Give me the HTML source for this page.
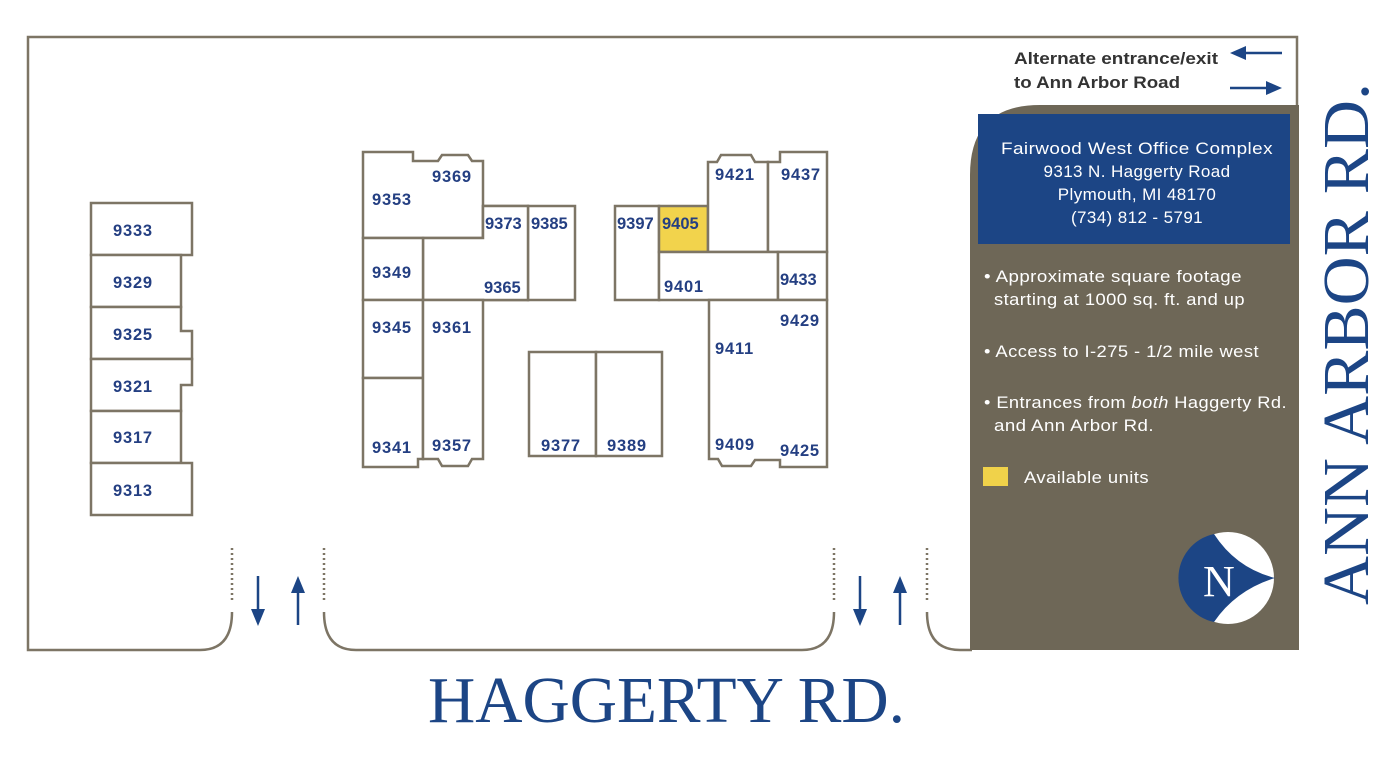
<!DOCTYPE html>
<html><head><meta charset="utf-8"><style>
html,body{margin:0;padding:0;background:#fff;}
svg{display:block;}
.n{font-family:"Liberation Sans",sans-serif;font-weight:bold;font-size:16.5px;letter-spacing:0.8px;fill:#243f82;}
.w{font-family:"Liberation Sans",sans-serif;font-size:17px;letter-spacing:0.4px;fill:#fff;}
.b{fill:#fff;stroke:#7d7565;stroke-width:2.5;}
</style></head><body>
<svg width="1400" height="758" viewBox="0 0 1400 758" xmlns="http://www.w3.org/2000/svg">
<g fill="none" stroke="#7d7565" stroke-width="2.5">
<path d="M200 650 L28 650 L28 37 L1297 37 L1297 110"/>
<path d="M200 650 Q232 650 232 612"/>
<path d="M232 600 L232 548" stroke-dasharray="2 3"/>
<path d="M324 600 L324 548" stroke-dasharray="2 3"/>
<path d="M324 612 Q324 650 356 650 L802 650 Q834 650 834 612"/>
<path d="M834 600 L834 548" stroke-dasharray="2 3"/>
<path d="M927 600 L927 548" stroke-dasharray="2 3"/>
<path d="M927 612 Q927 650 960 650 L972 650"/>
</g>
<path d="M970 650 L970 175 Q970 105 1040 105 L1299 105 L1299 650 Z" fill="#6e6757"/>
<rect x="978" y="114" width="312" height="130" fill="#1c4585"/>
<g class="w" text-anchor="middle">
<text x="1137" y="154" textLength="272" lengthAdjust="spacingAndGlyphs">Fairwood West Office Complex</text>
<text x="1137" y="177">9313 N. Haggerty Road</text>
<text x="1137" y="200">Plymouth, MI  48170</text>
<text x="1137" y="223">(734) 812 - 5791</text>
</g>
<g class="w">
<text x="984" y="282" textLength="258" lengthAdjust="spacingAndGlyphs">• Approximate square footage</text>
<text x="994" y="305" textLength="251" lengthAdjust="spacingAndGlyphs">starting at 1000 sq. ft. and up</text>
<text x="984" y="357" textLength="275" lengthAdjust="spacingAndGlyphs">• Access to I-275 - 1/2 mile west</text>
<text x="984" y="408" textLength="303" lengthAdjust="spacingAndGlyphs">• Entrances from <tspan font-style="italic">both</tspan> Haggerty Rd.</text>
<text x="994" y="431" textLength="160" lengthAdjust="spacingAndGlyphs">and Ann Arbor Rd.</text>
<text x="1024" y="483" textLength="125" lengthAdjust="spacingAndGlyphs">Available units</text>
</g>
<rect x="983" y="467" width="25" height="19" fill="#f0d24a"/>
<circle cx="1228" cy="578" r="46" fill="#fff"/>
<path d="M1214 534 Q1236 568 1275 578 Q1236 590 1214 622 A45 45 0 0 1 1214 534 Z" fill="#1c4585"/>
<text x="1203" y="596" font-family="Liberation Serif,serif" font-size="44" fill="#fff">N</text>
<g font-family="Liberation Sans,sans-serif" font-weight="bold" font-size="16.5" fill="#333">
<text x="1014" y="64" textLength="204" lengthAdjust="spacingAndGlyphs">Alternate entrance/exit</text>
<text x="1014" y="88" textLength="166" lengthAdjust="spacingAndGlyphs">to Ann Arbor Road</text>
</g>
<g fill="#1c4585" stroke="#1c4585" stroke-width="2.5">
<line x1="1244" y1="53" x2="1282" y2="53"/><path d="M1230 53 L1246 46 L1246 60 Z" stroke="none"/>
<line x1="1230" y1="88" x2="1268" y2="88"/><path d="M1282 88 L1266 81 L1266 95 Z" stroke="none"/>
<line x1="258" y1="576" x2="258" y2="612"/><path d="M258 626 L251 609 L265 609 Z" stroke="none"/>
<line x1="298" y1="590" x2="298" y2="625"/><path d="M298 576 L291 593 L305 593 Z" stroke="none"/>
<line x1="860" y1="576" x2="860" y2="612"/><path d="M860 626 L853 609 L867 609 Z" stroke="none"/>
<line x1="900" y1="590" x2="900" y2="625"/><path d="M900 576 L893 593 L907 593 Z" stroke="none"/>
</g>
<g class="b">
<rect x="91" y="203" width="101" height="52"/>
<rect x="91" y="255" width="90" height="52"/>
<path d="M91 307 L181 307 L181 331 L192 331 L192 359 L91 359 Z"/>
<path d="M91 359 L192 359 L192 385 L181 385 L181 411 L91 411 Z"/>
<rect x="91" y="411" width="90" height="52"/>
<rect x="91" y="463" width="101" height="52"/>
</g>
<g class="b">
<path d="M363 152 L413 152 L413 161 L438 161 L442 155 L468 155 L472 161 L483 161 L483 238 L363 238 Z"/>
<rect x="483" y="206" width="45" height="94"/>
<rect x="528" y="206" width="47" height="94"/>
<path d="M423 238 L483 238 L483 206 L528 206 L528 300 L423 300 Z"/>
<rect x="363" y="238" width="60" height="62"/>
<rect x="363" y="300" width="60" height="78"/>
<path d="M363 378 L423 378 L423 459 L418 459 L418 467 L363 467 Z"/>
<path d="M423 300 L483 300 L483 459 L472 459 L468 466 L442 466 L438 459 L423 459 Z"/>
<rect x="529" y="352" width="67" height="104"/>
<rect x="596" y="352" width="66" height="104"/>
</g>
<g class="b">
<rect x="615" y="206" width="44" height="94"/>
<rect x="659" y="206" width="49" height="46" fill="#f2d34c"/>
<path d="M708 162 L717 162 L721 155 L751 155 L755 162 L768 162 L768 252 L708 252 Z"/>
<path d="M768 162 L780 162 L780 152 L827 152 L827 252 L768 252 Z"/>
<rect x="659" y="252" width="119" height="48"/>
<rect x="778" y="252" width="49" height="48"/>
<path d="M709 300 L827 300 L827 467 L780 467 L780 460 L755 460 L751 466 L722 466 L718 459 L709 459 Z"/>
</g>
<g class="n">
<text x="113" y="236">9333</text><text x="113" y="288">9329</text><text x="113" y="340">9325</text>
<text x="113" y="392">9321</text><text x="113" y="443">9317</text><text x="113" y="496">9313</text>
<text x="372" y="205">9353</text><text x="432" y="182">9369</text>
<text x="485" y="229" letter-spacing="0">9373</text><text x="531" y="229" letter-spacing="0">9385</text>
<text x="372" y="278">9349</text><text x="484" y="293" letter-spacing="0">9365</text>
<text x="372" y="333">9345</text><text x="432" y="333">9361</text>
<text x="372" y="453">9341</text><text x="432" y="451">9357</text>
<text x="541" y="451">9377</text><text x="607" y="451">9389</text>
<text x="617" y="229" letter-spacing="0">9397</text><text x="662" y="229" letter-spacing="0">9405</text>
<text x="715" y="180">9421</text><text x="781" y="180">9437</text>
<text x="664" y="292">9401</text><text x="780" y="285" letter-spacing="0">9433</text>
<text x="780" y="326">9429</text><text x="715" y="354">9411</text>
<text x="715" y="450">9409</text><text x="780" y="456">9425</text>
</g>
<text x="428" y="722" font-family="Liberation Serif,serif" font-size="66" fill="#1c4585" textLength="477" lengthAdjust="spacingAndGlyphs">HAGGERTY RD.</text>
<text transform="translate(1368,605) rotate(-90)" font-family="Liberation Serif,serif" font-size="66" fill="#1c4585" textLength="522" lengthAdjust="spacingAndGlyphs">ANN ARBOR RD.</text>
</svg>
</body></html>
